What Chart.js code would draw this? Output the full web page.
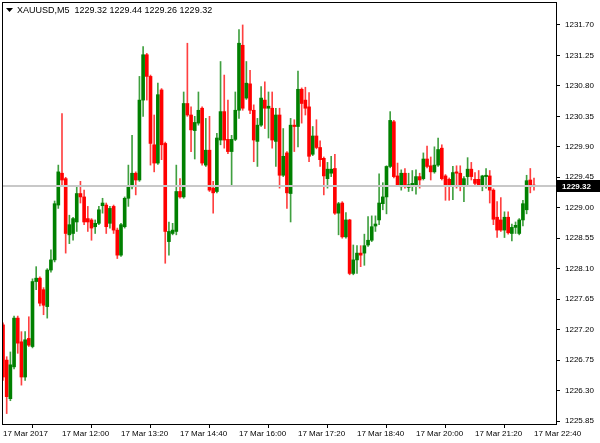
<!DOCTYPE html>
<html>
<head>
<meta charset="utf-8">
<script src="https://cdn.jsdelivr.net/npm/chart.js@4.4.1/dist/chart.umd.min.js"></script>
<style>
  html, body { margin: 0; padding: 0; background: #fff; }
</style>
</head>
<body>
<canvas id="priceChart" width="600" height="443"></canvas>
<script>
const symbolName = "XAUUSD,M5";
const barsPerLabel = 16;
const xTickLabels = ["17 Mar 2017", "17 Mar 12:00", "17 Mar 13:20", "17 Mar 14:40", "17 Mar 16:00",
    "17 Mar 17:20", "17 Mar 18:40", "17 Mar 20:00", "17 Mar 21:20", "17 Mar 22:40"];
const yTickValues = [1225.85, 1226.30, 1226.75, 1227.20, 1227.65, 1228.10, 1228.55,
    1229.00, 1229.45, 1229.90, 1230.35, 1230.80, 1231.25, 1231.70];

// M5 candles, 10:40 .. 22:40
const openP = [
    1227.27, 1226.75, 1226.18, 1226.65, 1227.37, 1227.02, 1226.50, 1227.07, 1226.95, 1227.91,
    1227.96, 1227.79, 1227.54, 1228.08, 1228.23, 1229.04, 1229.51, 1229.43, 1228.60, 1228.62,
    1228.79, 1229.21, 1229.16, 1228.84, 1228.82, 1228.72, 1228.77, 1229.03, 1229.04, 1228.77,
    1229.02, 1228.67, 1228.30, 1228.72, 1229.14, 1229.31, 1229.51, 1229.41, 1230.59, 1231.26,
    1230.94, 1229.93, 1229.66, 1230.74, 1229.95, 1228.50, 1228.62, 1228.65, 1229.24, 1229.16,
    1230.54, 1230.37, 1230.14, 1230.25, 1230.47, 1229.63, 1229.85, 1229.29, 1229.24, 1230.00,
    1230.42, 1230.01, 1229.83, 1230.01, 1230.44, 1231.40, 1230.62, 1230.83, 1230.44, 1229.98,
    1230.22, 1230.59, 1230.47, 1230.47, 1229.98, 1230.37, 1229.48, 1229.81, 1229.21, 1230.22,
    1230.20, 1230.75, 1230.59, 1230.49, 1229.79, 1230.06, 1229.89, 1229.73, 1229.43, 1229.51,
    1229.58, 1228.92, 1229.07, 1228.57, 1228.82, 1228.03, 1228.23, 1228.33, 1228.33, 1228.45,
    1228.52, 1228.73, 1228.82, 1229.06, 1229.16, 1229.61, 1230.27, 1229.47, 1229.31, 1229.51,
    1229.30, 1229.34, 1229.34, 1229.46, 1229.43, 1229.72, 1229.62, 1229.53, 1229.63, 1229.88,
    1229.47, 1229.42, 1229.34, 1229.53, 1229.51, 1229.34, 1229.46, 1229.57, 1229.42, 1229.42,
    1229.34, 1229.46, 1229.47, 1229.26, 1228.86, 1228.82, 1228.67, 1228.86, 1228.62, 1228.71,
    1228.62, 1228.82, 1228.97, 1229.41, 1229.32
];
const highP = [
    1227.30, 1226.80, 1226.87, 1227.40, 1227.40, 1227.17, 1227.17, 1227.39, 1227.95, 1228.13,
    1227.98, 1227.82, 1228.10, 1228.38, 1229.10, 1229.63, 1230.39, 1229.45, 1228.89, 1228.86,
    1229.31, 1229.39, 1229.26, 1229.02, 1228.84, 1228.82, 1229.02, 1229.14, 1229.07, 1229.02,
    1229.04, 1228.70, 1228.77, 1229.16, 1229.63, 1230.07, 1229.53, 1230.94, 1231.38, 1231.28,
    1230.96, 1230.37, 1230.84, 1230.76, 1229.97, 1228.79, 1228.77, 1229.63, 1229.43, 1230.71,
    1231.43, 1230.49, 1230.35, 1230.71, 1230.49, 1230.32, 1230.35, 1229.39, 1230.10, 1231.16,
    1230.96, 1230.59, 1230.07, 1230.71, 1231.63, 1231.70, 1231.16, 1231.03, 1230.52, 1230.32,
    1230.79, 1230.86, 1230.71, 1230.71, 1230.47, 1230.47, 1230.17, 1229.83, 1230.32, 1230.30,
    1231.02, 1230.77, 1230.78, 1230.70, 1230.20, 1230.30, 1229.99, 1229.75, 1229.67, 1229.76,
    1229.79, 1229.08, 1229.09, 1228.93, 1228.83, 1228.45, 1228.44, 1228.44, 1228.61, 1228.87,
    1228.88, 1228.88, 1229.50, 1229.37, 1229.62, 1230.42, 1230.29, 1229.66, 1229.56, 1229.58,
    1229.51, 1229.55, 1229.56, 1229.51, 1229.81, 1229.91, 1229.75, 1229.90, 1230.03, 1229.93,
    1229.49, 1229.44, 1229.61, 1229.62, 1229.62, 1229.46, 1229.74, 1229.67, 1229.52, 1229.55,
    1229.48, 1229.58, 1229.55, 1229.28, 1229.09, 1229.15, 1228.94, 1228.94, 1228.76, 1228.79,
    1228.84, 1229.11, 1229.48, 1229.58, 1229.44
];
const lowP = [
    1226.45, 1225.96, 1226.15, 1226.62, 1226.85, 1226.38, 1226.45, 1226.95, 1226.93, 1227.79,
    1227.55, 1227.42, 1227.37, 1228.05, 1228.20, 1228.99, 1229.31, 1228.33, 1228.47, 1228.52,
    1228.65, 1229.07, 1228.75, 1228.65, 1228.52, 1228.62, 1228.75, 1228.92, 1228.62, 1228.70,
    1228.62, 1228.25, 1228.28, 1228.70, 1229.02, 1229.28, 1229.19, 1229.39, 1230.35, 1230.59,
    1229.63, 1229.53, 1229.64, 1229.71, 1228.18, 1228.30, 1228.60, 1228.60, 1229.14, 1229.14,
    1230.35, 1229.83, 1229.72, 1230.22, 1229.63, 1229.61, 1229.24, 1228.92, 1229.22, 1229.93,
    1229.88, 1229.80, 1229.34, 1229.99, 1230.32, 1230.44, 1230.60, 1230.39, 1229.68, 1229.61,
    1230.20, 1230.17, 1230.03, 1229.88, 1229.61, 1229.29, 1229.46, 1228.99, 1228.79, 1229.83,
    1229.90, 1230.25, 1230.37, 1229.68, 1229.77, 1229.87, 1229.61, 1229.19, 1229.29, 1229.46,
    1228.90, 1228.60, 1228.55, 1228.55, 1228.01, 1228.01, 1228.03, 1228.13, 1228.15, 1228.43,
    1228.50, 1228.65, 1228.75, 1228.97, 1228.91, 1229.59, 1229.44, 1229.32, 1229.26, 1229.29,
    1229.24, 1229.25, 1229.20, 1229.29, 1229.41, 1229.59, 1229.41, 1229.51, 1229.61, 1229.41,
    1229.11, 1229.11, 1229.12, 1229.29, 1229.25, 1229.09, 1229.34, 1229.41, 1229.34, 1229.32,
    1229.25, 1229.29, 1229.07, 1228.75, 1228.56, 1228.65, 1228.56, 1228.61, 1228.51, 1228.62,
    1228.60, 1228.73, 1228.91, 1229.22, 1229.26
];
const closeP = [
    1226.50, 1226.21, 1226.68, 1227.37, 1227.00, 1226.50, 1227.05, 1226.97, 1227.91, 1227.96,
    1227.59, 1227.56, 1228.08, 1228.23, 1229.06, 1229.53, 1229.41, 1228.62, 1228.75, 1228.84,
    1229.21, 1229.16, 1228.79, 1228.79, 1228.70, 1228.77, 1228.97, 1229.07, 1228.72, 1228.99,
    1228.67, 1228.30, 1228.75, 1229.14, 1229.31, 1229.51, 1229.41, 1230.59, 1231.26, 1230.94,
    1229.95, 1229.66, 1230.67, 1229.93, 1228.65, 1228.65, 1228.67, 1229.24, 1229.16, 1230.54,
    1230.37, 1230.15, 1230.26, 1230.44, 1229.66, 1229.85, 1229.26, 1229.22, 1230.03, 1230.42,
    1230.00, 1229.83, 1230.01, 1230.44, 1231.43, 1230.47, 1230.84, 1230.44, 1230.00, 1230.22,
    1230.62, 1230.47, 1230.50, 1230.00, 1230.37, 1229.48, 1229.76, 1229.22, 1230.22, 1230.20,
    1230.75, 1230.54, 1230.47, 1229.76, 1230.06, 1229.89, 1229.71, 1229.47, 1229.57, 1229.57,
    1228.92, 1229.06, 1228.57, 1228.82, 1228.03, 1228.23, 1228.33, 1228.30, 1228.44, 1228.52,
    1228.72, 1228.76, 1229.07, 1229.16, 1229.61, 1230.29, 1229.46, 1229.34, 1229.51, 1229.34,
    1229.34, 1229.36, 1229.46, 1229.41, 1229.72, 1229.61, 1229.53, 1229.63, 1229.86, 1229.43,
    1229.32, 1229.34, 1229.52, 1229.51, 1229.34, 1229.43, 1229.57, 1229.46, 1229.36, 1229.34,
    1229.47, 1229.48, 1229.26, 1228.83, 1228.67, 1228.67, 1228.86, 1228.63, 1228.71, 1228.74,
    1228.82, 1229.06, 1229.40, 1229.31, 1229.32
];

const bullColor = "#008000";
const bearColor = "#ff0000";
const axisFont = { family: "Liberation Sans", size: 8 };

const last = openP.length - 1;
const isBull = closeP.map((c, i) => c > openP[i]);
const bodyColors = isBull.map(b => b ? bullColor : bearColor);
const wickColors = isBull.map(b => b ? "rgba(0,128,0,0.75)" : "rgba(255,0,0,0.75)");

// frame, current price line + label, symbol header
const terminalDecor = {
    id: "terminalDecor",
    afterDatasetsDraw(chart) {
        const { ctx, chartArea: a, scales } = chart;
        const py = Math.round(scales.y.getPixelForValue(closeP[last]));
        ctx.save();
        ctx.strokeStyle = "#c8c8c8";
        ctx.lineWidth = 2;
        ctx.beginPath();
        ctx.moveTo(a.left, py);
        ctx.lineTo(a.right, py);
        ctx.stroke();
        ctx.restore();
    },
    afterDraw(chart) {
        const { ctx, chartArea: a, scales } = chart;
        ctx.save();
        ctx.strokeStyle = "#000";
        ctx.lineWidth = 1;
        ctx.strokeRect(a.left + 0.5, a.top + 0.5, a.right - a.left, a.bottom - a.top);

        // current price tag
        const py = Math.round(scales.y.getPixelForValue(closeP[last]));
        ctx.fillStyle = "#000";
        ctx.fillRect(a.right + 1, py - 6, chart.width - a.right - 1, 12);
        ctx.fillStyle = "#fff";
        ctx.font = "bold 8px 'Liberation Sans'";
        ctx.textBaseline = "middle";
        ctx.textAlign = "left";
        ctx.fillText(closeP[last].toFixed(2), a.right + 6, py + 0.5);

        // header
        ctx.fillStyle = "#000";
        ctx.beginPath();
        ctx.moveTo(a.left + 4, 8);
        ctx.lineTo(a.left + 11, 8);
        ctx.lineTo(a.left + 7.5, 12);
        ctx.closePath();
        ctx.fill();
        ctx.font = "9px 'Liberation Sans'";
        ctx.textBaseline = "middle";
        const head = symbolName + "  " + [openP[last], highP[last], lowP[last], closeP[last]]
            .map(v => v.toFixed(2)).join(" ");
        ctx.fillText(head, a.left + 15, 10.5);
        ctx.restore();
    }
};

const indexes = openP.map((_, i) => i);

new Chart(document.getElementById("priceChart"), {
    type: "bar",
    data: {
        datasets: [
            {
                label: "body",
                data: indexes.map(i => ({ x: i, y: [openP[i], closeP[i]] })),
                backgroundColor: bodyColors,
                grouped: false,
                barPercentage: 1,
                categoryPercentage: 1,
                maxBarThickness: 3,
                minBarLength: 1,
                order: 0
            },
            {
                label: "wick",
                data: indexes.map(i => ({ x: i, y: [lowP[i], highP[i]] })),
                backgroundColor: wickColors,
                grouped: false,
                barPercentage: 1,
                categoryPercentage: 1,
                maxBarThickness: 1,
                order: 1
            }
        ]
    },
    options: {
        responsive: false,
        animation: false,
        layout: { padding: { left: 2, top: 2, right: 0, bottom: 0 } },
        plugins: {
            legend: { display: false },
            tooltip: { enabled: false },
            title: { display: false }
        },
        scales: {
            x: {
                type: "linear",
                offset: false,
                min: -0.27,
                max: 149.97,
                afterBuildTicks: scale => {
                    scale.ticks = xTickLabels.map((_, k) => ({ value: k * barsPerLabel }));
                },
                afterFit: scale => {
                    scale.height = 19;
                    scale.paddingLeft = 0;
                    scale.paddingRight = 0;
                },
                ticks: {
                    autoSkip: false,
                    maxRotation: 0,
                    align: "start",
                    padding: 1,
                    color: "#000",
                    font: axisFont,
                    callback: v => xTickLabels[Math.round(v / barsPerLabel)]
                },
                grid: { drawOnChartArea: false, tickLength: 4, color: "#000" },
                border: { display: false }
            },
            y: {
                position: "right",
                min: 1225.806,
                max: 1232.039,
                afterBuildTicks: scale => {
                    scale.ticks = yTickValues.map(v => ({ value: v }));
                },
                afterFit: scale => {
                    scale.width = 44;
                    scale.paddingTop = 0;
                    scale.paddingBottom = 0;
                },
                ticks: {
                    padding: 5,
                    color: "#000",
                    font: axisFont,
                    callback: v => v.toFixed(2)
                },
                grid: { drawOnChartArea: false, tickLength: 4, color: "#000" },
                border: { display: false }
            }
        }
    },
    plugins: [terminalDecor]
});
</script>
</body>
</html>
